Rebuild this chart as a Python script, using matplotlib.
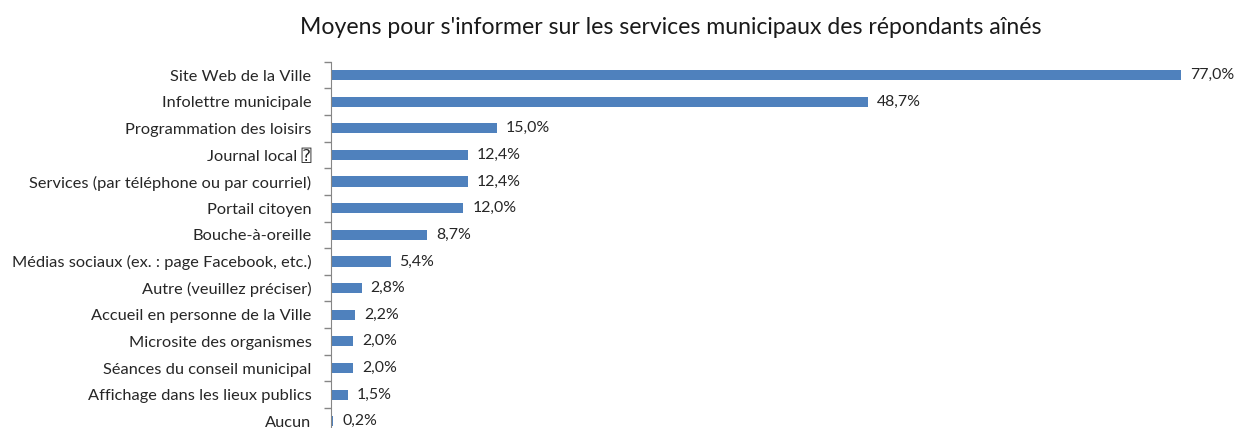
import matplotlib
matplotlib.use("Agg")
import matplotlib.pyplot as plt
import numpy as np

plt.rcParams['font.family'] = ['Lato', 'DejaVu Sans', 'DejaVu Sans Mono']

title = "Moyens pour s'informer sur les services municipaux des répondants aînés"
categories = [
    "Site Web de la Ville",
    "Infolettre municipale",
    "Programmation des loisirs",
    "Journal local \u2370",
    "Services (par téléphone ou par courriel)",
    "Portail citoyen",
    "Bouche-à-oreille",
    "Médias sociaux (ex. : page Facebook, etc.)",
    "Autre (veuillez préciser)",
    "Accueil en personne de la Ville",
    "Microsite des organismes",
    "Séances du conseil municipal",
    "Affichage dans les lieux publics",
    "Aucun",
]
values = [77.0, 48.7, 15.0, 12.4, 12.4, 12.0, 8.7, 5.4, 2.8, 2.2, 2.0, 2.0, 1.5, 0.2]

W, H = 1236, 428
fig = plt.figure(figsize=(W / 100, H / 100), dpi=100)
# axes spans past the bottom edge so the last row is clipped
ax = fig.add_axes([331 / W, -6.6 / H, (W - 331) / W, (428 - 61.7 + 6.6) / H])

y = np.arange(len(categories))
ax.barh(y, values, height=0.38, color='#4F81BD')
ax.set_ylim(len(categories) - 0.5, -0.5)
ax.set_xlim(0, 82)

for yi, v in zip(y, values):
    ax.text(v + 0.8, yi, f"{v:.1f}".replace('.', ',') + "%", va='center', ha='left',
            fontsize=11.4, color='#262626')

ax.set_yticks(y)
ax.set_yticklabels(categories, fontsize=11.8, color='#262626')
ax.tick_params(axis='y', which='major', length=0, pad=14)
ax.set_yticks(np.arange(-0.5, len(categories), 1.0), minor=True)
ax.tick_params(axis='y', which='minor', length=5, color='#868686', width=1)
ax.set_xticks([])
for s in ['top', 'right', 'bottom']:
    ax.spines[s].set_visible(False)
ax.spines['left'].set_color('#868686')

fig.text(671 / W, 1 - 28 / H, title, ha='center', va='center', fontsize=16.6, color='#1a1a1a')

fig.savefig("out.png", dpi=100)
